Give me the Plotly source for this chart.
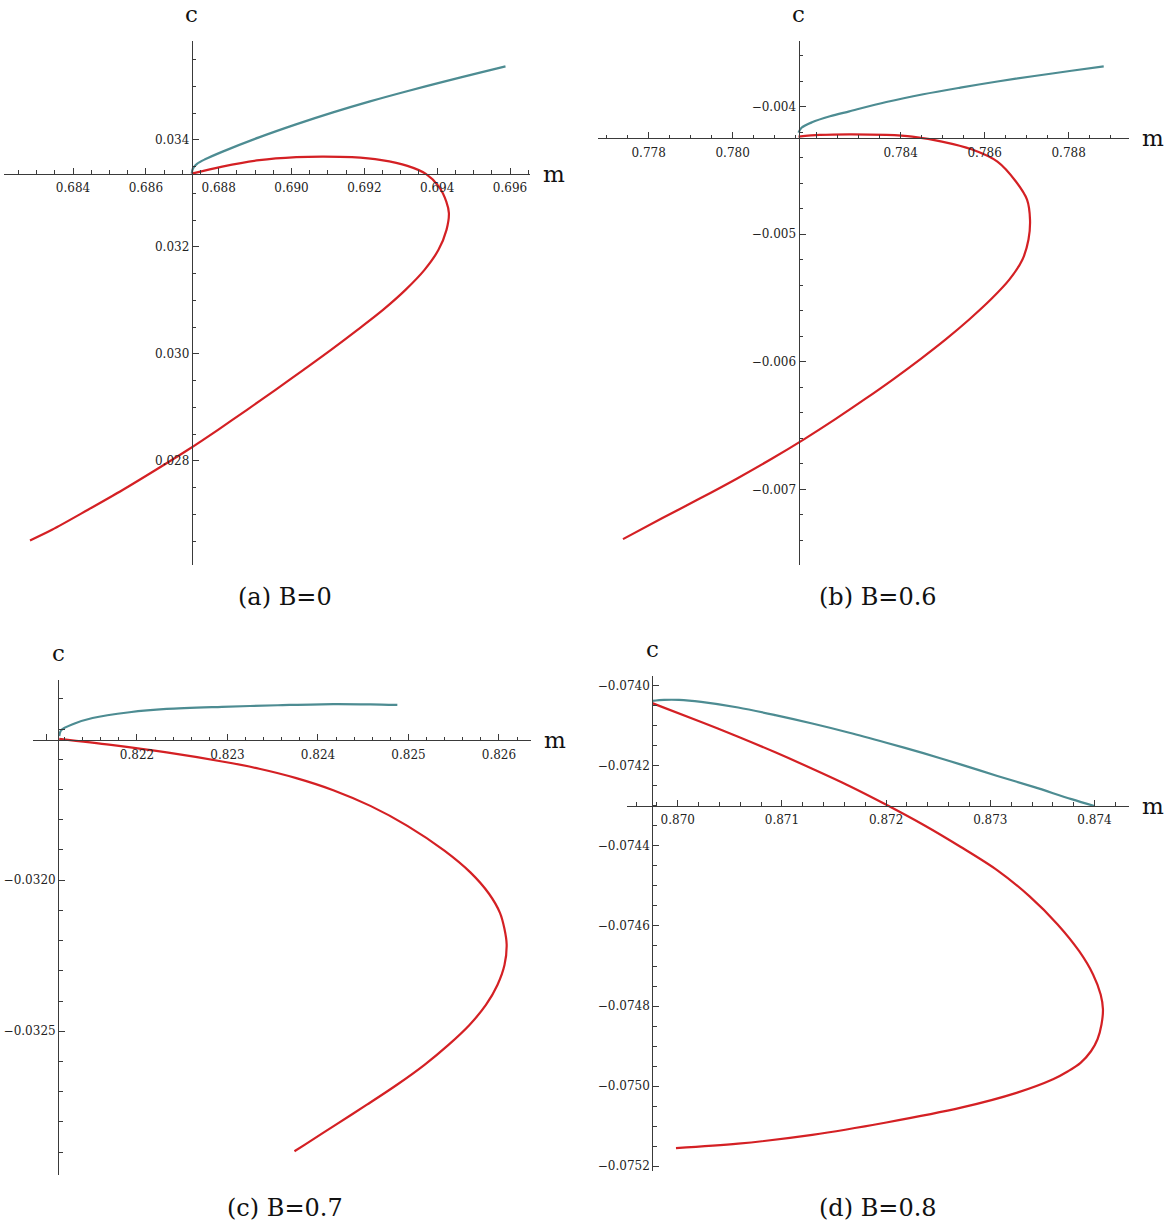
import plotly.graph_objects as go

W, H = 1165, 1228

# ---------------- data ----------------
# (a) B=0
a_teal_m = [0.687260, 0.687295, 0.687405, 0.687625, 0.688091, 0.689108, 0.690123, 0.691139, 0.692155, 0.693171,
            0.694187, 0.695203, 0.695876]
a_teal_c = [0.033370, 0.033467, 0.033551, 0.033636, 0.033776, 0.034047, 0.034290, 0.034514, 0.034720, 0.034910,
            0.035088, 0.035262, 0.035374]
a_red_m = [0.687260, 0.688097, 0.689116, 0.690132, 0.690843, 0.691659, 0.692471, 0.693183, 0.693690, 0.694047,
           0.694251, 0.694322, 0.694256, 0.694036, 0.693652, 0.693130, 0.692512, 0.691812, 0.691085, 0.690329,
           0.689561, 0.688778, 0.687982, 0.687158, 0.686279, 0.685373, 0.684412, 0.683423, 0.682819]
a_red_c = [0.033370, 0.033501, 0.033621, 0.033677, 0.033688, 0.033677, 0.033621, 0.033514, 0.033364, 0.033127,
           0.032847, 0.032630, 0.032318, 0.031944, 0.031570, 0.031196, 0.030822, 0.030449, 0.030075, 0.029701,
           0.029327, 0.028953, 0.028579, 0.028206, 0.027832, 0.027458, 0.027084, 0.026710, 0.026510]

# (b) B=0.6
b_teal_m = [0.781569, 0.781640, 0.781890, 0.782319, 0.782779, 0.783660, 0.784540, 0.785424, 0.786305, 0.787186,
            0.788069, 0.788836]
b_teal_c = [-0.004203, -0.004165, -0.004122, -0.004075, -0.004036, -0.003963, -0.003902, -0.003850, -0.003802, -0.003759,
            -0.003718, -0.003684]
b_red_m = [0.781569, 0.782071, 0.782779, 0.783660, 0.784276, 0.784983, 0.785688, 0.786305, 0.786745, 0.787010,
           0.787081, 0.787045, 0.786902, 0.786593, 0.786152, 0.785640, 0.785081, 0.784474, 0.783831, 0.783157,
           0.782455, 0.781717, 0.780931, 0.780098, 0.779217, 0.778307, 0.777390]
b_red_c = [-0.004234, -0.004221, -0.004216, -0.004221, -0.004234, -0.004273, -0.004333, -0.004430, -0.004586, -0.004729,
           -0.004885, -0.0050414, -0.0051977, -0.0053539, -0.0055102, -0.0056664, -0.0058227, -0.0059789, -0.0061352, -0.0062914,
           -0.0064477, -0.0066039, -0.0067602, -0.0069164, -0.0070727, -0.0072289, -0.0073906]

# (c) B=0.7
c_teal_m = [0.821141, 0.821161, 0.821304, 0.821509, 0.821918, 0.822328, 0.822939, 0.823556, 0.824169, 0.824579, 0.824877]
c_teal_c = [-0.031523, -0.031504, -0.031482, -0.031463, -0.031444, -0.031433, -0.031426, -0.031421, -0.031417, -0.031418, -0.031420]
c_red_m = [0.821141, 0.821714, 0.822328, 0.822941, 0.823351, 0.823760, 0.824169, 0.824579, 0.824988, 0.825397,
           0.825684, 0.825888, 0.826011, 0.826060, 0.826085, 0.826061, 0.825983, 0.825856, 0.825674, 0.825442,
           0.825177, 0.824873, 0.824541, 0.824199, 0.823856, 0.823740]
c_red_c = [-0.031532, -0.031552, -0.031577, -0.031607, -0.031631, -0.031662, -0.031702, -0.031754, -0.031820, -0.031902,
           -0.031974, -0.032044, -0.032108, -0.032160, -0.032213, -0.032281, -0.032347, -0.032413, -0.032479, -0.032545,
           -0.032611, -0.032677, -0.032743, -0.032809, -0.032875, -0.032897]

# (d) B=0.8
d_teal_m = [0.869755, 0.869869, 0.870012, 0.870225, 0.870580, 0.870936, 0.871291, 0.871647, 0.872002, 0.872357,
            0.872713, 0.873068, 0.873423, 0.873779, 0.873999]
d_teal_c = [-0.0740375, -0.074035, -0.074035, -0.074040, -0.074054, -0.074073, -0.074094, -0.074117, -0.074142, -0.074168,
            -0.074196, -0.074225, -0.074253, -0.074283, -0.074300]
d_red_m = [0.869755, 0.870225, 0.870580, 0.870936, 0.871291, 0.871647, 0.872002, 0.872357, 0.872713, 0.873068,
           0.873377, 0.873646, 0.873853, 0.873986, 0.874059, 0.874081, 0.874067, 0.874029, 0.873966, 0.873866,
           0.873746, 0.873602, 0.873251, 0.872719, 0.872002, 0.871291, 0.870580, 0.869983]
d_red_c = [-0.074043, -0.074090, -0.074127, -0.074166, -0.074207, -0.074250, -0.074297, -0.074347, -0.074402, -0.074461,
           -0.074526, -0.074596, -0.074663, -0.074721, -0.074771, -0.074808, -0.074846, -0.074883, -0.074913, -0.074942,
           -0.074963, -0.074983, -0.075017, -0.075054, -0.075091, -0.075122, -0.075144, -0.075155]

# tick values and labels
a_xticks = [0.684, 0.686, 0.688, 0.690, 0.692, 0.694, 0.696]
a_xlabels = ["0.684", "0.686", "0.688", "0.690", "0.692", "0.694", "0.696"]
a_yticks = [0.028, 0.030, 0.032, 0.034]
a_ylabels = ["0.028", "0.030", "0.032", "0.034"]

b_xticks = [0.778, 0.780, 0.782, 0.784, 0.786, 0.788]
b_xlabels = ["0.778", "0.780", "", "0.784", "0.786", "0.788"]
b_yticks = [-0.007, -0.006, -0.005, -0.004]
b_ylabels = ["\u22120.007", "\u22120.006", "\u22120.005", "\u22120.004"]

c_xticks = [0.821, 0.822, 0.823, 0.824, 0.825, 0.826]
c_xlabels = ["", "0.822", "0.823", "0.824", "0.825", "0.826"]
c_yticks = [-0.0325, -0.0320, -0.0315]
c_ylabels = ["\u22120.0325", "\u22120.0320", ""]

d_xticks = [0.870, 0.871, 0.872, 0.873, 0.874]
d_xlabels = ["0.870", "0.871", "0.872", "0.873", "0.874"]
d_yticks = [-0.0752, -0.0750, -0.0748, -0.0746, -0.0744, -0.0742, -0.0740]
d_ylabels = ["\u22120.0752", "\u22120.0750", "\u22120.0748", "\u22120.0746", "\u22120.0744", "\u22120.0742", "\u22120.0740"]

captions = ["(a) B=0", "(b) B=0.6", "(c) B=0.7", "(d) B=0.8"]

# ---------------- layout / style ----------------
TEAL = "#4d8c92"
RED = "#d42024"
AX = "#3a3a3a"
TICKFONT = dict(family="DejaVu Serif", size=12, color="#222222")
LABFONT = dict(family="DejaVu Serif", size=23, color="#111111")
CAPFONT = dict(family="DejaVu Serif", size=24, color="#111111")

panels = [
    dict(tm=a_teal_m, tc=a_teal_c, rm=a_red_m, rc=a_red_c,
         px=(4, 530), py=(41, 566), xr=(0.682105, 0.696549), yr=(0.026050, 0.035850),
         ox=0.68726, oy=0.033364, xt=a_xticks, xl=a_xlabels, yt=a_yticks, yl=a_ylabels,
         xminor=0.0005, yminor=0.0005, cap=(285, 598)),
    dict(tm=b_teal_m, tc=b_teal_c, rm=b_red_m, rc=b_red_c,
         px=(598, 1129), py=(41, 566), xr=(0.776795, 0.789438), yr=(-0.007594, -0.003484),
         ox=0.781569, oy=-0.004247, xt=b_xticks, xl=b_xlabels, yt=b_yticks, yl=b_ylabels,
         xminor=0.0005, yminor=0.0002, cap=(878, 598)),
    dict(tm=c_teal_m, tc=c_teal_c, rm=c_red_m, rc=c_red_c,
         px=(33, 531), py=(681, 1177), xr=(0.820851, 0.826354), yr=(-0.032976, -0.031337),
         ox=0.821128, oy=-0.031537, xt=c_xticks, xl=c_xlabels, yt=c_yticks, yl=c_ylabels,
         xminor=0.0002, yminor=0.0001, cap=(285, 1210)),
    dict(tm=d_teal_m, tc=d_teal_c, rm=d_red_m, rc=d_red_c,
         px=(627, 1129), py=(677, 1173), xr=(0.869513, 0.874331), yr=(-0.0752125, -0.073975),
         ox=0.869755, oy=-0.0743, xt=d_xticks, xl=d_xlabels, yt=d_yticks, yl=d_ylabels,
         xminor=0.0002, yminor=0.00005, cap=(878, 1210)),
]

fig = go.Figure()
annotations = []

for i, p in enumerate(panels):
    k = "" if i == 0 else str(i + 1)
    xa, ya = "x" + k, "y" + k
    xdom = [p["px"][0] / W, p["px"][1] / W]
    ydom = [1 - p["py"][1] / H, 1 - p["py"][0] / H]
    # positions of the crossing axes (data -> paper via the axis scale)
    ypos = ydom[0] + (p["oy"] - p["yr"][0]) / (p["yr"][1] - p["yr"][0]) * (ydom[1] - ydom[0])
    xpos = xdom[0] + (p["ox"] - p["xr"][0]) / (p["xr"][1] - p["xr"][0]) * (xdom[1] - xdom[0])

    fig.add_trace(go.Scatter(x=p["tm"], y=p["tc"], mode="lines", xaxis=xa, yaxis=ya,
                             line=dict(color=TEAL, width=2.2, shape="spline", smoothing=0.9),
                             showlegend=False, hoverinfo="skip"))
    fig.add_trace(go.Scatter(x=p["rm"], y=p["rc"], mode="lines", xaxis=xa, yaxis=ya,
                             line=dict(color=RED, width=2.2, shape="spline", smoothing=0.9),
                             showlegend=False, hoverinfo="skip"))

    xaxis = dict(domain=xdom, range=list(p["xr"]), anchor="free", position=ypos,
                 showline=True, linecolor=AX, linewidth=1, showgrid=False, zeroline=False,
                 tickmode="array", tickvals=p["xt"], ticktext=p["xl"],
                 ticks="inside", ticklen=6, tickwidth=1, tickcolor=AX, tickfont=TICKFONT,
                 ticklabelstandoff=3,
                 minor=dict(ticks="inside", ticklen=3.5, tickwidth=1, tickcolor=AX,
                            tickmode="linear", tick0=p["xt"][0], dtick=p["xminor"], showgrid=False),
                 fixedrange=True)
    yaxis = dict(domain=ydom, range=list(p["yr"]), anchor="free", position=xpos,
                 showline=True, linecolor=AX, linewidth=1, showgrid=False, zeroline=False,
                 tickmode="array", tickvals=p["yt"], ticktext=p["yl"],
                 ticks="inside", ticklen=6, tickwidth=1, tickcolor=AX, tickfont=TICKFONT,
                 minor=dict(ticks="inside", ticklen=3.5, tickwidth=1, tickcolor=AX,
                            tickmode="linear", tick0=p["yt"][0], dtick=p["yminor"], showgrid=False),
                 fixedrange=True)
    fig.update_layout(**{"xaxis" + k: xaxis, "yaxis" + k: yaxis})

    # axis labels
    annotations.append(dict(text="m", xref="paper", yref="paper", x=xdom[1] + 11 / W, y=ypos,
                            xanchor="left", yanchor="middle", showarrow=False, font=LABFONT))
    annotations.append(dict(text="c", xref="paper", yref="paper", x=xpos, y=ydom[1] + 12 / H,
                            xanchor="center", yanchor="bottom", showarrow=False, font=LABFONT))
    annotations.append(dict(text=captions[i], xref="paper", yref="paper",
                            x=p["cap"][0] / W, y=1 - p["cap"][1] / H,
                            xanchor="center", yanchor="middle", showarrow=False, font=CAPFONT))

fig.update_layout(width=W, height=H, margin=dict(l=0, r=0, t=0, b=0),
                  paper_bgcolor="white", plot_bgcolor="white",
                  annotations=annotations, showlegend=False)

fig.write_html("out.html")
